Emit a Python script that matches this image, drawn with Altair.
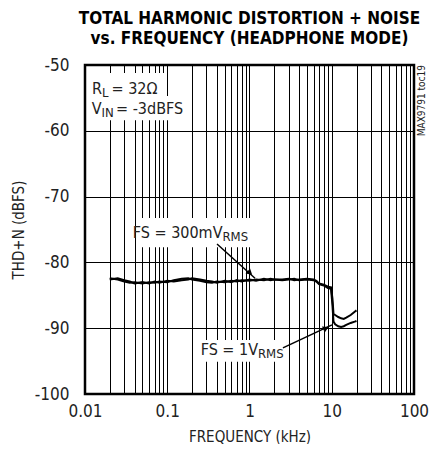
import altair as alt
import pandas as pd

# ---------------- data ----------------
freq_khz = [0.02, 0.025, 0.03, 0.035, 0.04, 0.05, 0.06, 0.07, 0.08, 0.1,
            0.12, 0.15, 0.18, 0.2, 0.25, 0.3, 0.35, 0.4, 0.5, 0.6,
            0.7, 0.8, 1.0, 1.2, 1.5, 1.8, 2.0, 2.5, 3.0, 3.5,
            4.0, 5.0, 6.0, 6.5, 7.0, 8.0, 9.0, 9.8, 10.2, 10.5,
            11.0, 12.0, 13.0, 14.0, 15.0, 17.0, 19.0, 20.0]
thdn_300mv = [-82.4, -82.6, -82.9, -83.1, -83.0, -83.2, -83.0, -83.1, -82.9, -83.0,
              -82.7, -82.5, -82.4, -82.6, -82.8, -83.0, -83.1, -82.9, -83.0, -82.8,
              -82.9, -82.7, -82.8, -82.6, -82.7, -82.5, -82.6, -82.6, -82.5, -82.7,
              -82.6, -82.5, -82.6, -82.8, -83.2, -83.4, -83.7, -83.8, -85.5, -87.8,
              -88.0, -88.3, -88.5, -88.6, -88.4, -88.0, -87.5, -87.3]
thdn_1v = [-82.6, -82.4, -82.7, -82.9, -83.2, -83.0, -83.2, -82.9, -83.1, -82.8,
           -82.9, -82.7, -82.6, -82.4, -82.6, -82.8, -82.9, -83.1, -82.8, -83.0,
           -82.7, -82.9, -82.6, -82.8, -82.5, -82.7, -82.6, -82.7, -82.6, -82.5,
           -82.7, -82.6, -82.7, -82.9, -83.3, -83.5, -83.9, -84.0, -86.5, -89.0,
           -89.4, -89.7, -89.8, -89.7, -89.5, -89.2, -89.0, -88.9]

x_grid = [0.01, 0.02, 0.03, 0.04, 0.05, 0.06, 0.07, 0.08, 0.09,
          0.1, 0.2, 0.3, 0.4, 0.5, 0.6, 0.7, 0.8, 0.9,
          1, 2, 3, 4, 5, 6, 7, 8, 9,
          10, 20, 30, 40, 50, 60, 70, 80, 90, 100]
y_ticks = [-100, -90, -80, -70, -60, -50]

# white label boxes (data units)
box_f1 = [0.01057, 0.01057, 0.0493, 0.272]
box_f2 = [0.0967, 0.1554, 1.072, 2.55]
box_d1 = [-51.2, -54.7, -73.25, -91.8]
box_d2 = [-54.7, -58.4, -77.7, -95.1]

# label parts: main text ends at junction, subscript starts there
main_text = ["R", "V", "FS = 300mV", "FS = 1V"]
sub_text = ["L", "IN", "RMS", "RMS"]
junc_f = [0.01609, 0.01587, 0.4695, 1.268]
junc_d = [-54.4, -57.4, -76.3, -94.1]
# rest of the RL / VIN lines, after the subscript
rest_text = ["= 32Ω", "= -3dBFS"]
rest_f = [0.01931, 0.02190]
rest_d = [-54.4, -57.4]

# arrows
arr_f1 = [0.403, 2.55]
arr_d1 = [-77.2, -93.0]
arr_f2 = [1.167, 10.07]
arr_d2 = [-82.4, -89.5]
head_f = [1.014, 8.51]
head_d = [-81.6, -90.0]
head_ang = [132, 65]

FONT = "'Liberation Sans Narrow', 'DejaVu Sans Condensed', 'Roboto Condensed', Roboto, sans-serif"

curves = pd.DataFrame({
    "f": freq_khz * 2,
    "db": thdn_300mv + thdn_1v,
    "series": ["300mV"] * len(freq_khz) + ["1V"] * len(freq_khz),
})
boxes = pd.DataFrame({"f1": box_f1, "f2": box_f2, "d1": box_d1, "d2": box_d2})
mains = pd.DataFrame({"t": main_text, "f": junc_f, "db": junc_d})
subs = pd.DataFrame({"t": sub_text, "f": junc_f, "db": junc_d})
rests = pd.DataFrame({"t": rest_text, "f": rest_f, "db": rest_d})
arrows = pd.DataFrame({"f1": arr_f1, "d1": arr_d1, "f2": arr_f2, "d2": arr_d2})
heads = pd.DataFrame({"f": head_f, "db": head_d, "a": head_ang})
side = pd.DataFrame({"t": ["MAX9791 toc19"], "f": [125.0], "db": [-50.0]})

xs = alt.Scale(type="log", domain=[0.01, 100], nice=False)
ys = alt.Scale(domain=[-100, -50], nice=False, zero=False)

x_axis = alt.Axis(values=x_grid, title="FREQUENCY (kHz)", grid=True,
                  labelExpr="abs(log(datum.value)/LN10 - round(log(datum.value)/LN10)) < 0.000001 ? '' + datum.value : ''",
                  labelFlush=False, labelOverlap=False)
y_axis = alt.Axis(values=y_ticks, title="THD+N (dBFS)", grid=True,
                  labelExpr="'' + datum.value")

base = alt.Chart(curves).mark_line(color="black", strokeWidth=2, clip=True).encode(
    x=alt.X("f:Q", scale=xs, axis=x_axis),
    y=alt.Y("db:Q", scale=ys, axis=y_axis),
    detail="series:N",
)

box_layer = alt.Chart(boxes).mark_rect(color="white").encode(
    x=alt.X("f1:Q", scale=xs), x2="f2:Q",
    y=alt.Y("d1:Q", scale=ys), y2="d2:Q",
)

main_layer = alt.Chart(mains).mark_text(
    font=FONT, fontSize=16, align="right", baseline="alphabetic", color="#222"
).encode(x=alt.X("f:Q", scale=xs), y=alt.Y("db:Q", scale=ys), text="t:N")

sub_layer = alt.Chart(subs).mark_text(
    font=FONT, fontSize=13, align="left", baseline="alphabetic", dy=3, color="#222"
).encode(x=alt.X("f:Q", scale=xs), y=alt.Y("db:Q", scale=ys), text="t:N")

rest_layer = alt.Chart(rests).mark_text(
    font=FONT, fontSize=16, align="left", baseline="alphabetic", dx=3, color="#222"
).encode(x=alt.X("f:Q", scale=xs), y=alt.Y("db:Q", scale=ys), text="t:N")

arrow_layer = alt.Chart(arrows).mark_rule(color="black", strokeWidth=1.5).encode(
    x=alt.X("f1:Q", scale=xs), y=alt.Y("d1:Q", scale=ys), x2="f2:Q", y2="d2:Q"
)

head_layer = alt.Chart(heads).mark_point(
    shape="triangle-up", filled=True, color="black", size=45, opacity=1
).encode(x=alt.X("f:Q", scale=xs), y=alt.Y("db:Q", scale=ys),
         angle=alt.Angle("a:Q", scale=None))

side_layer = alt.Chart(side).mark_text(
    font=FONT, fontSize=10, angle=270, align="right", baseline="middle", color="#222"
).encode(x=alt.X("f:Q", scale=xs), y=alt.Y("db:Q", scale=ys), text="t:N")

chart = alt.layer(
    box_layer, base, arrow_layer, head_layer, main_layer, sub_layer, rest_layer, side_layer
).properties(
    width=329, height=329,
    autosize=alt.AutoSizeParams(type="none"),
    padding={"left": 77, "top": 57, "right": 16, "bottom": 50},
    title=alt.TitleParams(
        ["TOTAL HARMONIC DISTORTION + NOISE", "vs. FREQUENCY (HEADPHONE MODE)"],
        font=FONT, fontWeight="bold", fontSize=17, lineHeight=20,
        anchor="middle", frame="group", offset=8, color="black",
    ),
).configure_view(
    stroke="black", strokeWidth=2.5
).configure_axis(
    domain=False, ticks=False, gridColor="black", gridWidth=1, gridOpacity=1,
    labelFont=FONT, labelFontSize=17, labelColor="#222",
    titleFont=FONT, titleFontSize=15, titleFontWeight="normal", titleColor="#222",
).configure_axisY(
    labelPadding=16, titlePadding=8
).configure_axisX(
    labelPadding=9, titlePadding=10
)

chart.save("out.html", embed_options={"renderer": "svg", "actions": False})
